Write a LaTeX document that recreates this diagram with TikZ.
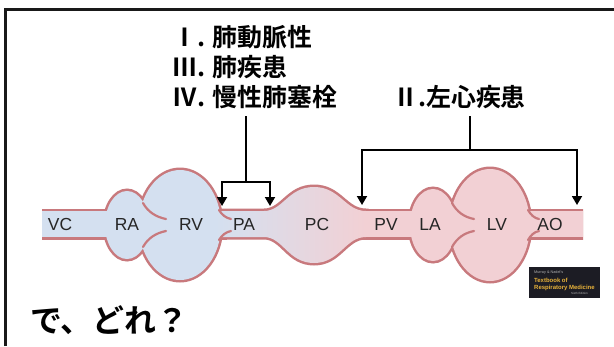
\documentclass[tikz,border=0pt]{standalone}
\usepackage{fontspec}
\setmainfont{Liberation Sans}
\newfontfamily\jp{Noto Sans CJK JP}[BoldFont={Noto Sans CJK JP Bold}]
\usetikzlibrary{arrows.meta}

\definecolor{vesblue}{HTML}{D4E0F0}
\definecolor{vespink}{HTML}{F2D0D4}
\definecolor{vesline}{HTML}{C8797D}
\definecolor{coverbg}{HTML}{1C1C24}
\definecolor{coverfg}{HTML}{E8B23A}

\tikzset{
  outl/.style={draw=vesline, line width=5bp},
  flap/.style={draw=vesline, line width=2.2bp, line cap=round},
  lbl/.style={font=\fontsize{17.5}{20}\selectfont, text=black!85, inner sep=0pt},
  cause/.style={font=\jp\bfseries\fontsize{25}{28}\selectfont, inner sep=0pt, anchor=base west},
  conn/.style={draw=black, line width=1.8bp},
  arr/.style={conn, -{Triangle[length=9bp,width=10bp]}},
}

% vessel pieces (y grows downward)
\newcommand{\tubeLeft}{(42,211) rectangle (224,237)}
\newcommand{\tubeRight}{(360,211) rectangle (583,237)}
\newcommand{\atriumR}{(127,225) ellipse [x radius=22, y radius=34]}
\newcommand{\ventR}{(180,225) ellipse [x radius=41, y radius=55]}
\newcommand{\atriumL}{(433,225) ellipse [x radius=23, y radius=36]}
\newcommand{\ventL}{(490,225) ellipse [x radius=40, y radius=56]}
\newcommand{\capbed}{(215,211) -- (264,211) .. controls (283,211) and (288,187) .. (314,187)
  .. controls (340,187) and (345,211) .. (366,211) -- (366,237)
  .. controls (345,237) and (340,263) .. (314,263)
  .. controls (288,263) and (283,237) .. (264,237) -- (215,237) -- cycle}

\begin{document}
\begin{tikzpicture}[x=1bp, y=-1bp]
\useasboundingbox (0,0) rectangle (614,346);
\fill[white] (0,0) rectangle (614,346);

% frame
\draw[line width=3bp, color=black!90] (5,346) -- (5,9) -- (614,9);

% outer outline of the circulation (union trick: stroke, then fill on top)
\begin{scope}
  \clip (42,100) rectangle (583,300);
  \path[outl] \tubeLeft;
  \path[outl] \tubeRight;
  \path[outl] \atriumR;
  \path[outl] \ventR;
  \path[outl] \atriumL;
  \path[outl] \ventL;
  \path[outl] \capbed;
\end{scope}
\fill[vesblue] \tubeLeft;
\fill[vesblue] \atriumR;
\fill[vesblue] \ventR;
\fill[vespink] \tubeRight;
\fill[vespink] \atriumL;
\fill[vespink] \ventL;
\shade[left color=vesblue, right color=vespink] \capbed;

% valve flaps
\draw[flap] (143,203) .. controls (148,212) and (156,217) .. (166,219);
\draw[flap] (143,247) .. controls (148,238) and (156,233) .. (166,231);
\draw[flap] (219,210) .. controls (222,215) and (226,218) .. (231,219);
\draw[flap] (219,240) .. controls (222,235) and (226,232) .. (231,231);
\draw[flap] (452,203) .. controls (457,212) and (464,217) .. (474,219);
\draw[flap] (452,247) .. controls (457,238) and (464,233) .. (474,231);
\draw[flap] (528,210) .. controls (531,215) and (534,218) .. (539,219);
\draw[flap] (528,240) .. controls (531,235) and (534,232) .. (539,231);

% segment labels
\node[lbl] (vc) at (60,224.5) {VC};
\node[lbl] (ra) at (127,224.5) {RA};
\node[lbl] (rv) at (191,224.5) {RV};
\node[lbl] (pa) at (244,224.5) {PA};
\node[lbl] (pc) at (317,224.5) {PC};
\node[lbl] (pv) at (386,224.5) {PV};
\node[lbl] (la) at (430,224.5) {LA};
\node[lbl] (lv) at (497,224.5) {LV};
\node[lbl] (ao) at (550,224.5) {AO};

% cause groups
\node[cause] (g1) at (172,46) {Ⅰ. 肺動脈性};
\node[cause] (g3) at (172,76) {Ⅲ. 肺疾患};
\node[cause] (g4) at (172,106) {Ⅳ. 慢性肺塞栓};
\node[cause] (g2) at (393,106) {Ⅱ.左心疾患};

% pointers to the affected segments
\coordinate (s1) at (246,116);
\coordinate (j1) at (246,182);
\coordinate (t1a) at (222,206);
\coordinate (t1b) at (270,206);
\draw[conn] (s1) -- (j1);
\draw[arr] (j1) -| (t1a);
\draw[arr] (j1) -| (t1b);

\coordinate (s2) at (470,116);
\coordinate (j2) at (470,150);
\coordinate (t2a) at (362,205);
\coordinate (t2b) at (577,205);
\draw[conn] (s2) -- (j2);
\draw[arr] (j2) -| (t2a);
\draw[arr] (j2) -| (t2b);

% book cover
\fill[coverbg] (529,267) rectangle (600,298);
\node[anchor=west, inner sep=0pt, text=white!70!black, font=\fontsize{3.8}{4}\selectfont] (bk1) at (534,273) {Murray \& Nadel's};
\node[anchor=west, inner sep=0pt, text=coverfg, font=\bfseries\fontsize{6}{7}\selectfont] (bk2) at (534,280.5) {Textbook of};
\node[anchor=west, inner sep=0pt, text=coverfg, font=\bfseries\fontsize{6}{7}\selectfont] (bk3) at (534,287.5) {Respiratory Medicine};
\node[anchor=west, inner sep=0pt, text=white!70!black, font=\fontsize{3}{4}\selectfont] (bk4) at (571,293.5) {Sixth Edition};

% closing question
\node[anchor=base west, inner sep=0pt, font=\jp\bfseries\fontsize{32}{36}\selectfont] (q) at (30,332) {で、どれ？};
\end{tikzpicture}
\end{document}
